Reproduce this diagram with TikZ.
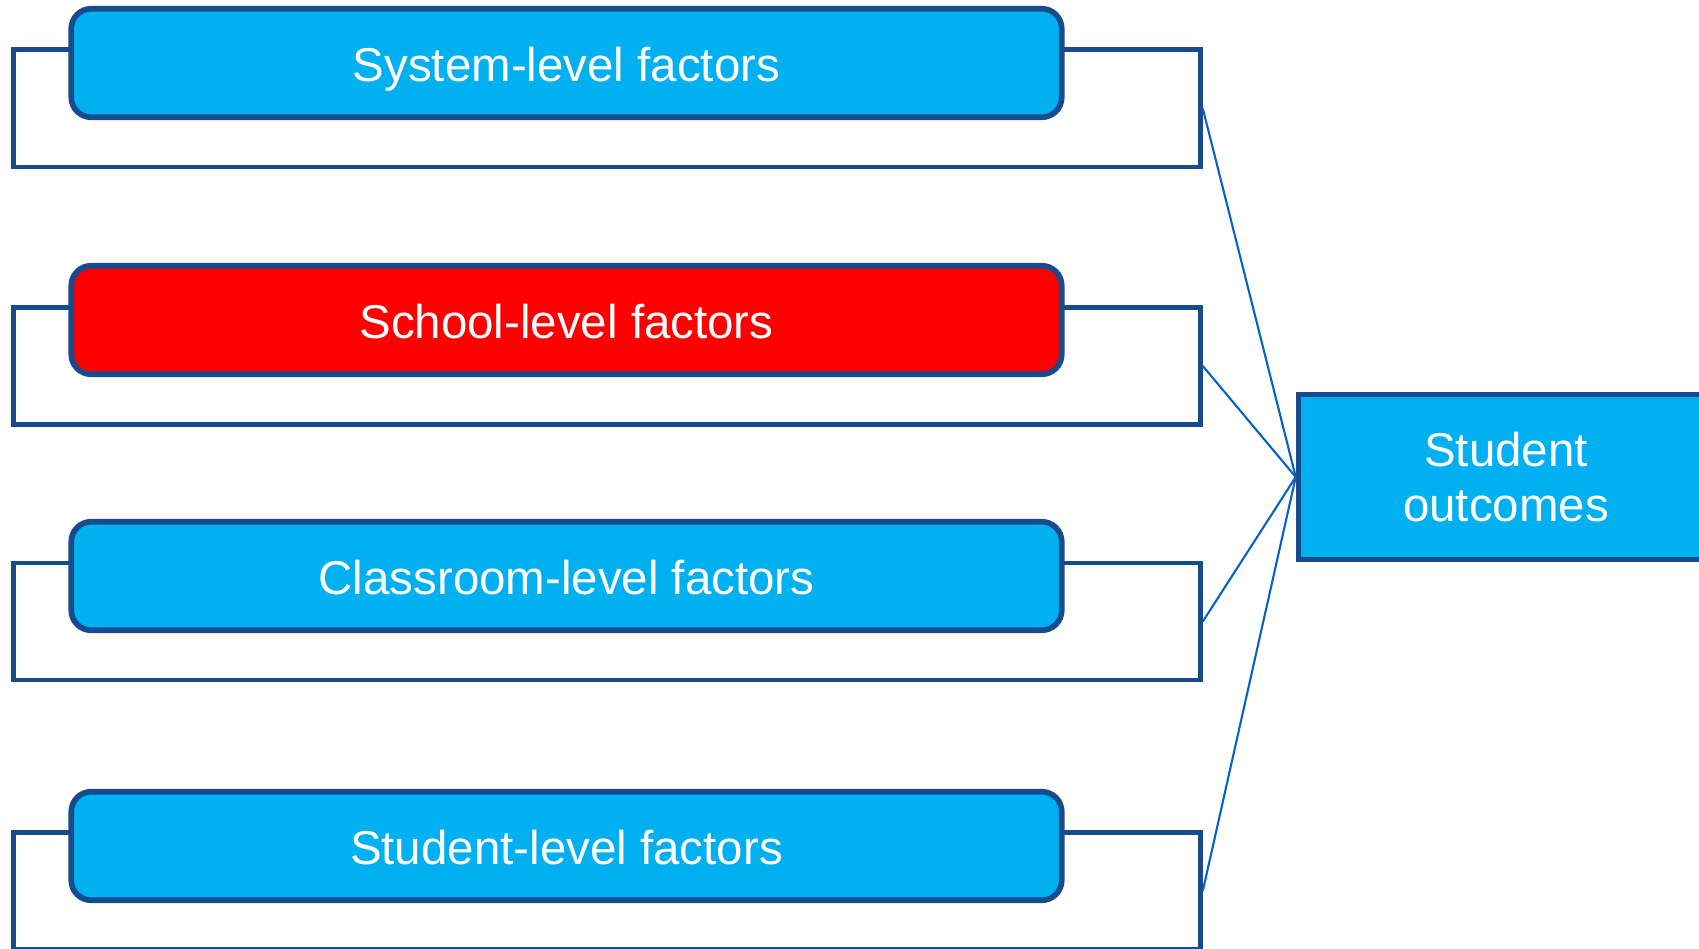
\documentclass[tikz,border=0pt]{standalone}
\usepackage{fontspec}
\setmainfont{Liberation Sans}
\usepackage{tikz}
\usetikzlibrary{positioning}
\definecolor{frameblue}{RGB}{22,76,142}
\definecolor{boxblue}{RGB}{0,176,240}
\definecolor{linkblue}{RGB}{8,98,192}

\begin{document}
\begin{tikzpicture}[x=0.01cm, y=-0.01cm, inner sep=0pt, font=\fontsize{13.5}{15.8}\selectfont]
    \tikzstyle{frm}=[rectangle, draw=frameblue, line width=1.4pt, minimum width=11.86cm, minimum height=1.17cm]
    \tikzstyle{fac}=[rectangle, rounded corners=0.2cm, fill=boxblue, draw=frameblue, line width=1.6pt, text=white, text height=0.37cm, text depth=0pt, minimum width=9.9cm, minimum height=1.085cm]
    \tikzstyle{hot}=[fac, fill=red]
    \tikzstyle{lnk}=[draw=linkblue, line width=0.6pt]

    \clip (0,0) rectangle (1699,949);

    \node[frm] (F1) at (607,108.5) {};
    \node[frm] (F2) at (607,366) {};
    \node[frm] (F3) at (607,621.5) {};
    \node[frm] (F4) at (607,891) {};

    \node[fac] (L1) at (566.5,63) {System-level factors};
    \node[hot] (L2) at (566.5,320) {School-level factors};
    \node[fac] (L3) at (566.5,576) {Classroom-level factors};
    \node[fac] (L4) at (566.5,846) {Student-level factors};

    \node[rectangle, fill=boxblue, draw=frameblue, line width=1.5pt, text=white, align=center,
          minimum width=4.15cm, minimum height=1.65cm] (Out) at (1506,477) {Student\\outcomes};

    \draw[lnk] (F1.east) -- (Out.west);
    \draw[lnk] (F2.east) -- (Out.west);
    \draw[lnk] (F3.east) -- (Out.west);
    \draw[lnk] (F4.east) -- (Out.west);
\end{tikzpicture}
\end{document}
